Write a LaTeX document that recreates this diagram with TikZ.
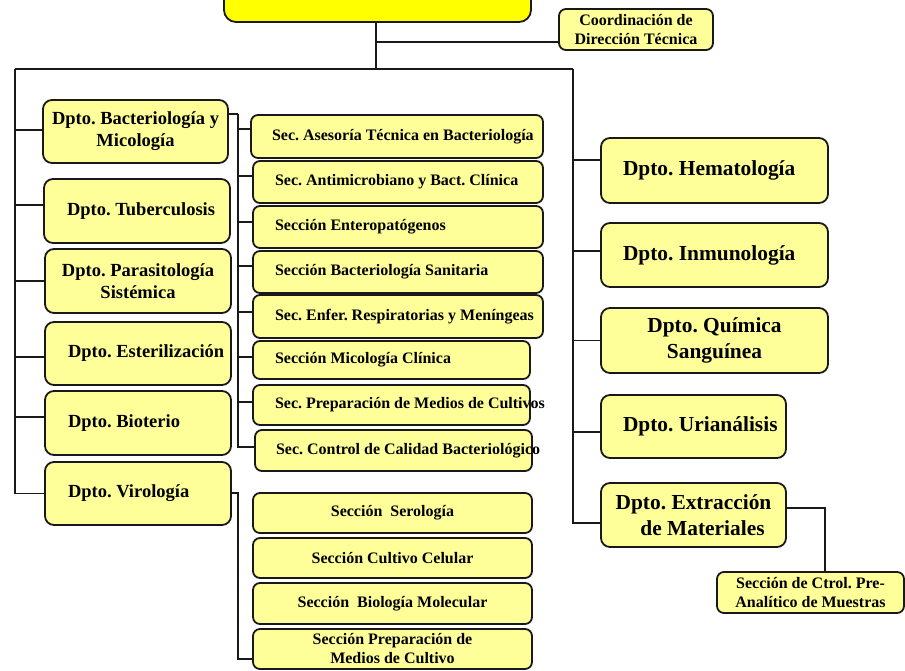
\documentclass[tikz,border=0pt]{standalone}
\usepackage{fontspec}
\setmainfont{Liberation Serif}
\frenchspacing
\definecolor{lightyel}{HTML}{FFFF99}
\definecolor{topyel}{HTML}{FFFF00}
\newcommand\leftin[2]{\makebox[#1pt][l]{#2}}
\tikzset{
  box/.style={draw=black!90, line width=1.8pt, rounded corners=9pt, fill=lightyel,
    inner sep=0pt, outer sep=0pt, anchor=north west},
  dp/.style={box, font=\bfseries\fontsize{18.5}{22}\selectfont},
  dpr/.style={box, font=\bfseries\fontsize{21.4}{26}\selectfont},
  sec/.style={box, rounded corners=7pt, font=\bfseries\fontsize{16}{19}\selectfont},
  conn/.style={line width=1.6pt, draw=black!90},
}
\begin{document}
\begin{tikzpicture}[x=1pt,y=-1pt]
\useasboundingbox (0,0) rectangle (905,670);
\clip (0,0) rectangle (905,670);
% top
\node[box, fill=topyel, rounded corners=12pt, minimum width=307pt, minimum height=60pt] (top) at (224,-38) {};
\node[sec, align=center, minimum width=154pt, minimum height=41pt] (cd) at (559,9) {Coordinación de\\Dirección Técnica};
% left column
\node[dp, align=center, minimum width=185pt, minimum height=63pt] (l1) at (43,100) {Dpto. Bacteriología y\\Micología};
\node[dp, minimum width=186pt, minimum height=64pt] (l2) at (44,179) {\leftin{140}{Dpto. Tuberculosis}};
\node[dp, align=center, minimum width=186pt, minimum height=64pt] (l3) at (45,249) {Dpto. Parasitología\\Sistémica};
\node[dp, minimum width=186pt, minimum height=63pt] (l4) at (45,322) {\leftin{140}{Dpto. Esterilización}};
\node[dp, minimum width=186pt, minimum height=64pt] (l5) at (45,391) {\leftin{140}{Dpto. Bioterio}};
\node[dp, minimum width=186pt, minimum height=63pt] (l6) at (45,462) {\leftin{140}{Dpto. Virología}};
% sections of bacteriology
\node[sec, minimum width=292pt, minimum height=43pt] (s1) at (251,115) {\leftin{250}{Sec. Asesoría Técnica en Bacteriología}};
\node[sec, minimum width=290pt, minimum height=42pt] (s2) at (253,161) {\leftin{246}{Sec. Antimicrobiano y Bact. Clínica}};
\node[sec, minimum width=290pt, minimum height=42pt] (s3) at (253,206) {\leftin{246}{Sección Enteropatógenos}};
\node[sec, minimum width=290pt, minimum height=42pt] (s4) at (253,251) {\leftin{246}{Sección Bacteriología Sanitaria}};
\node[sec, minimum width=290pt, minimum height=43pt] (s5) at (253,295) {\leftin{246}{Sec. Enfer. Respiratorias y Meníngeas}};
\node[sec, minimum width=277pt, minimum height=38pt] (s6) at (253,341) {\leftin{233}{Sección Micología Clínica}};
\node[sec, minimum width=277pt, minimum height=40pt] (s7) at (253,385) {\leftin{233}{Sec. Preparación de Medios de Cultivos}};
\node[sec, minimum width=277pt, minimum height=41pt] (s8) at (255,430) {\leftin{235}{Sec. Control de Calidad Bacteriológico}};
% sections of virology
\node[sec, minimum width=279pt, minimum height=40pt] (v1) at (253,493) {Sección\ \ Serología};
\node[sec, minimum width=279pt, minimum height=40pt] (v2) at (253,538) {Sección Cultivo Celular};
\node[sec, minimum width=279pt, minimum height=41pt] (v3) at (253,583) {Sección\ \ Biología Molecular};
\node[sec, align=center, minimum width=279pt, minimum height=40pt] (v4) at (253,629) {Sección Preparación de\\Medios de Cultivo};
% right column
\node[dpr, minimum width=227pt, minimum height=65pt] (r1) at (601,138) {\leftin{183}{Dpto. Hematología}};
\node[dpr, minimum width=227pt, minimum height=64pt] (r2) at (601,223) {\leftin{183}{Dpto. Inmunología}};
\node[dpr, align=center, minimum width=227pt, minimum height=65pt] (r3) at (601,308) {Dpto. Química\\Sanguínea};
\node[dpr, minimum width=185pt, minimum height=63pt] (r4) at (601,395) {\leftin{141}{Dpto. Urianálisis}};
\node[dpr, align=center, minimum width=185pt, minimum height=64pt] (r5) at (601,483) {Dpto. Extracción\\\hspace*{18pt}de Materiales};
\node[sec, align=center, minimum width=187pt, minimum height=41pt] (ct) at (717,572) {Sección de Ctrol. Pre-\\Analítico de Muestras};
% junctions
\coordinate (tj) at (376,69);
\coordinate (cj) at (376,42);
\coordinate (lt) at (15,69);
\coordinate (rt) at (573,69);
\coordinate (bj) at (238,114);
\coordinate (vj) at (238,493);
% connectors
\draw[conn] (tj |- top.south) -- (tj);
\draw[conn] (cj) -- (cj -| cd.west);
\draw[conn] (lt) -- (rt);
\foreach \n/\s in {l1/1.5,l2/6,l3/0,l4/-3.5,l5/6,l6/0}
  \draw[conn] ([yshift=\s pt]\n.west) -| (lt);
\draw[conn] (bj -| l1.east) -- (bj);
\foreach \n/\s in {s1/7.5,s2/6,s3/5,s4/6,s5/4.5,s6/3,s7/3,s8/3.5}
  \draw[conn] ([yshift=\s pt]\n.west) -| (bj);
\draw[conn] (vj -| l6.east) -- (vj) |- ([yshift=-10pt]v4.west);
\foreach \n/\s in {r1/10.5,r2/4,r3/0,r4/-5.5,r5/-8}
  \draw[conn] ([yshift=\s pt]\n.west) -| (rt);
\draw[conn] ([yshift=7pt]r5.east) -| ([xshift=14.5pt]ct.north);
\end{tikzpicture}
\end{document}
